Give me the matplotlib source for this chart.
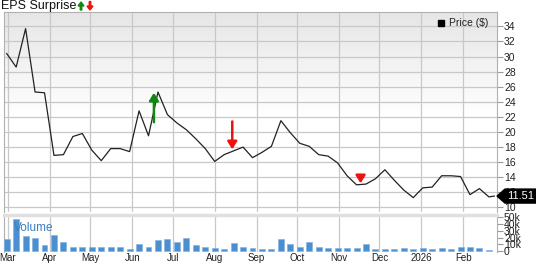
import matplotlib
matplotlib.use("Agg")
import matplotlib.pyplot as plt
import matplotlib.dates as mdates
import matplotlib.transforms as mtrans
from matplotlib.patches import Polygon, FancyArrow
from matplotlib.lines import Line2D
import numpy as np
import pandas as pd

plt.rcParams['font.family'] = ['Liberation Sans', 'DejaVu Sans']

# ---- data ----
price_dates = list(pd.date_range("2025-02-28", periods=52, freq="7D")) + [pd.Timestamp("2026-02-24")]
price = [30.4, 28.6, 33.7, 25.3, 25.2, 16.9, 17.0, 19.4, 19.8, 17.6,
         16.2, 17.8, 17.8, 17.4, 22.8, 19.5, 25.3, 22.3, 21.2, 20.3,
         19.1, 17.8, 16.1, 17.0, 17.5, 18.0, 16.6, 17.3, 18.1, 21.5,
         19.9, 18.5, 18.1, 17.0, 16.8, 15.9, 14.2, 13.0, 13.1, 13.8,
         15.0, 13.6, 12.3, 11.3, 12.6, 12.7, 14.2, 14.2, 14.1, 11.7,
         12.5, 11.4, 11.51]
volume_dates = pd.date_range("2025-02-28", periods=52, freq="7D")
volume = [18.6, 46.7, 23.0, 19.5, 9.5, 24.0, 14.0, 6.2, 6.2, 6.2,
          6.2, 6.5, 6.2, 2.9, 10.0, 6.2, 16.7, 18.0, 13.3, 19.0,
          9.0, 6.7, 4.8, 3.8, 11.9, 6.7, 4.8, 3.3, 3.8, 18.0,
          10.5, 6.7, 12.9, 6.7, 5.2, 5.2, 5.2, 4.3, 10.5, 3.8,
          3.8, 2.9, 4.8, 2.9, 4.3, 2.9, 5.2, 3.3, 5.7, 6.7,
          4.8, 1.9]  # thousands
eps_dates = [pd.Timestamp("2025-06-17"), pd.Timestamp("2025-08-14"), pd.Timestamp("2025-11-17")]
eps_from = [21.3, 21.4, 14.3]
eps_to = [25.2, 17.7, 13.2]
eps_color = ["#118811", "#ee1111", "#ee1111"]
month_ticks = pd.date_range("2025-03-01", periods=12, freq="MS")
month_labels = ["Mar", "Apr", "May", "Jun", "Jul", "Aug", "Sep", "Oct", "Nov", "Dec", "2026", "Feb"]
price_ticks = list(range(10, 36, 2))
vol_ticks = [0, 10, 20, 30, 40, 50]
vol_labels = ["0", "10k", "20k", "30k", "40k", "50k"]
last_price = 11.51

W, H = 536, 264
fig = plt.figure(figsize=(W / 100, H / 100), dpi=100)
fig.patch.set_facecolor("white")

def rect(l, t, r, b):
    return [l / W, 1 - b / H, (r - l) / W, (b - t) / H]

ax = fig.add_axes(rect(4, 12, 497, 212))
axv = fig.add_axes(rect(4, 215, 497, 252), sharex=ax)

xmin = mdates.date2num(pd.Timestamp("2025-02-26"))
xmax = mdates.date2num(pd.Timestamp("2026-02-26"))

grid_c = "#c8c8c8"
spine_c = "#b0b0b0"
text_c = "#222222"

# gradient background
grad = np.concatenate([np.linspace(0.90, 1.0, 55), np.ones(45)])[:, None]
ax.imshow(grad, cmap="gray", vmin=0, vmax=1, aspect="auto",
          extent=[0, 1, 0, 1], transform=ax.transAxes, zorder=0, origin="upper")

pd_num = mdates.date2num(price_dates)
ax.plot(pd_num, price, color="#222222", lw=0.9, zorder=3)
ax.set_xlim(xmin, xmax)
ax.set_ylim(9.4, 35.9)

ax.set_yticks(price_ticks)
ax.yaxis.tick_right()
ax.tick_params(axis="y", which="both", length=4, width=0.8, color="#999999",
               labelsize=7.5, labelcolor=text_c, pad=1)
ax.set_xticks(mdates.date2num(month_ticks))
ax.tick_params(axis="x", length=0, labelbottom=False)
ax.grid(True, color=grid_c, lw=0.9, zorder=1)
for s in ax.spines.values():
    s.set_color(spine_c)
    s.set_linewidth(0.8)
ax.spines["bottom"].set_visible(False)

# EPS arrows
for d, f, t, c in zip(eps_dates, eps_from, eps_to, eps_color):
    ax.annotate("", xy=(mdates.date2num(d), t), xytext=(mdates.date2num(d), f),
                arrowprops=dict(arrowstyle="-|>,head_length=0.45,head_width=0.28",
                                color=c, lw=1.8, shrinkA=0, shrinkB=0,
                                mutation_scale=10), zorder=5)

# legend
h = Line2D([], [], color="black", marker="s", ls="none", markersize=4)
leg = ax.legend([h], ["Price ($)"], loc="upper right", frameon=False,
                fontsize=7.5, handlelength=0.6, handletextpad=0.5,
                borderaxespad=0.2, bbox_to_anchor=(0.995, 1.0))
for t in leg.get_texts():
    t.set_color(text_c)

# last price label (arrow box pointing at the axis)
anchor = mtrans.ScaledTranslation(1.0, last_price, ax.get_yaxis_transform())
box_tr = mtrans.Affine2D() + anchor
poly = Polygon([(0, 0), (8, 7), (42, 7), (42, -7), (8, -7)], closed=True,
               facecolor="black", edgecolor="black", transform=box_tr,
               clip_on=False, zorder=20)
ax.add_patch(poly)
ax.text(0, 0, f"{last_price:.2f}", transform=mtrans.Affine2D().translate(10, 0) + anchor,
        ha="left", va="center", color="white", fontsize=8, zorder=21, clip_on=False)

# EPS Surprise header
fig.text(1 / W, 1 - 0.5 / H, "EPS Surprise", ha="left", va="top", fontsize=9, color="#111111")
fig.patches.append(FancyArrow(
    81 / W, 1 - 10 / H, 0, 8 / H, width=1.5 / W, head_width=6 / W, head_length=4 / H,
    length_includes_head=True, color="#118811", transform=fig.transFigure, figure=fig))
fig.patches.append(FancyArrow(
    90 / W, 1 - 1.5 / H, 0, -8.5 / H, width=1.5 / W, head_width=6 / W, head_length=4 / H,
    length_includes_head=True, color="#ee1111", transform=fig.transFigure, figure=fig))

# volume
vd = mdates.date2num(volume_dates)
axv.bar(vd, volume, width=4.4, color="#4a8fd0", edgecolor="#7fb0e0", lw=0.4, zorder=3)
axv.set_ylim(-1.0, 53)
axv.set_yticks(vol_ticks)
axv.set_yticklabels(vol_labels)
axv.yaxis.tick_right()
axv.tick_params(axis="y", length=4, width=0.8, color="#999999", labelsize=7.5,
                labelcolor=text_c, pad=1)
axv.set_xticks(mdates.date2num(month_ticks))
axv.set_xticklabels(month_labels)
axv.tick_params(axis="x", length=0, labelsize=7, labelcolor=text_c, pad=1)
axv.grid(True, axis="x", color=grid_c, lw=0.9, zorder=1)
axv.set_facecolor("white")
for s in axv.spines.values():
    s.set_color(spine_c)
    s.set_linewidth(0.8)
axv.spines["top"].set_color("#e0e0e0")
axv.spines["top"].set_linewidth(2.5)
axv.spines["bottom"].set_visible(False)
fig.text(14 / W, 1 - 228 / H, "Volume", fontsize=8.5, color="#3a7fc0", va="center", zorder=2)

fig.savefig("out.png", dpi=100)
